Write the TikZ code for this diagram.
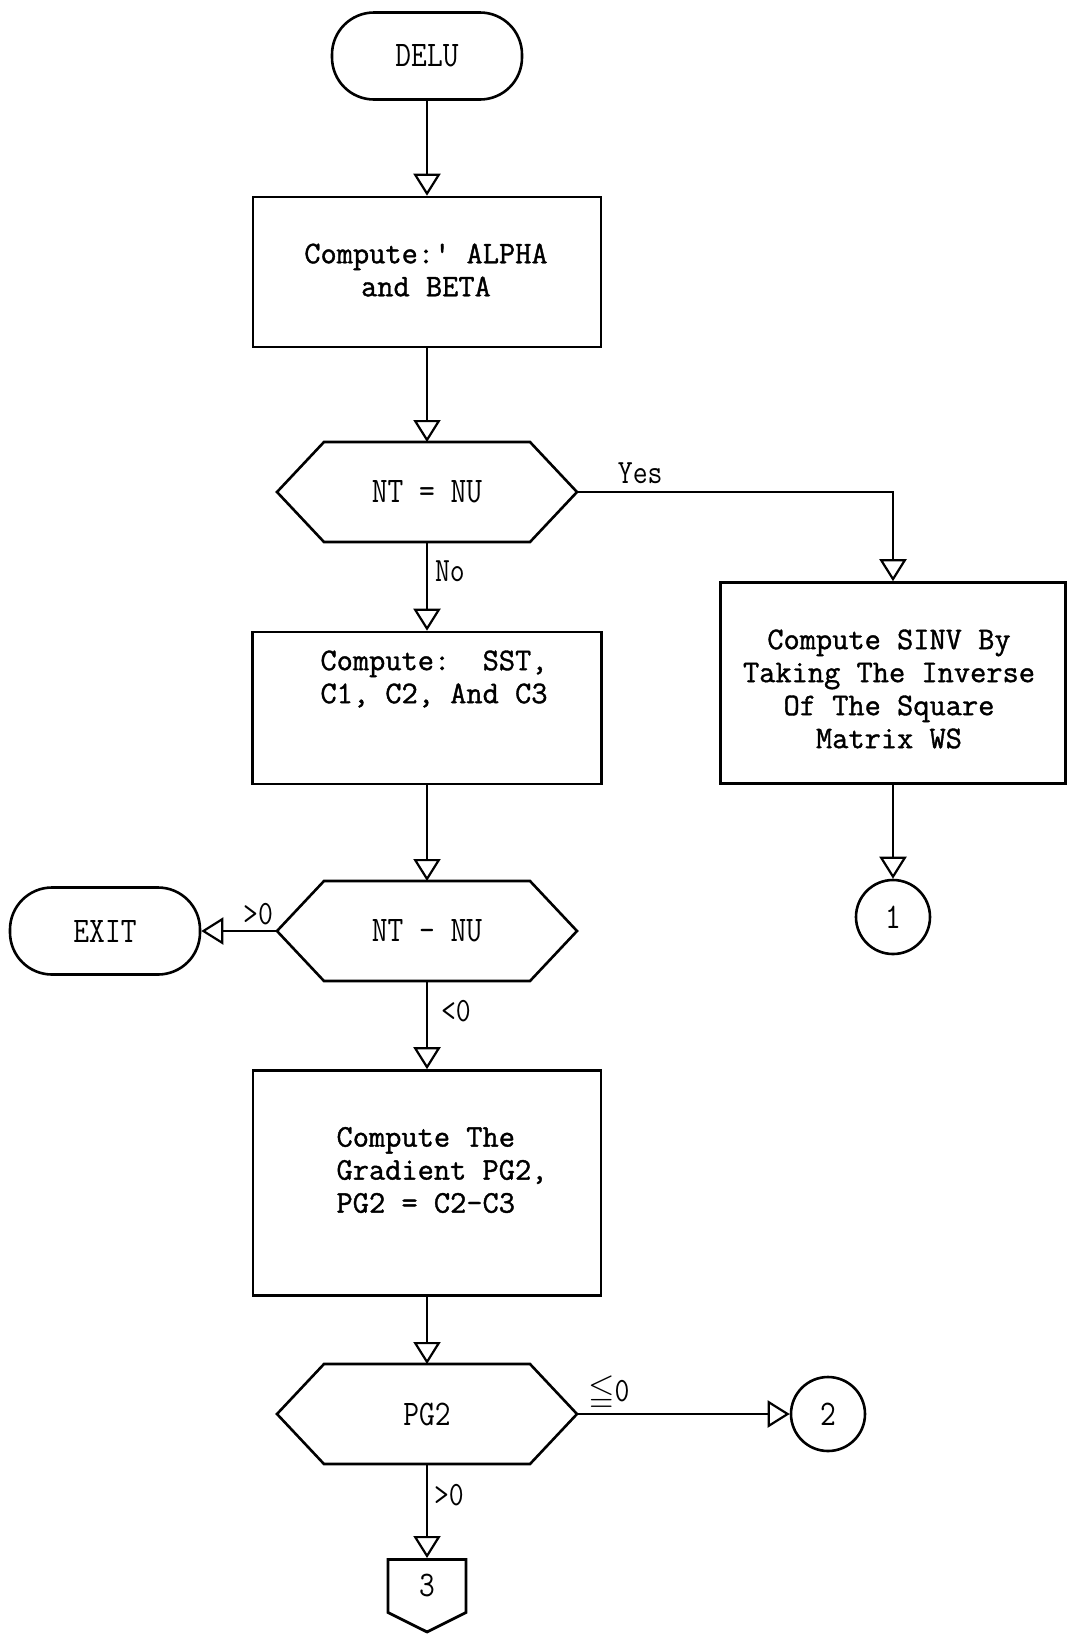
\documentclass[tikz,border=0pt]{standalone}
\usepackage{amssymb}
\usepackage{fontspec}
\newfontfamily\tallmono[FakeStretch=0.85]{Latin Modern Mono}
\newfontfamily\boxmono[FakeBold=1.2]{Latin Modern Mono}
\usetikzlibrary{shapes.symbols,arrows.meta}
\frenchspacing

\tikzset{
  shapeline/.style={line width=2.6pt, line join=miter},
  term/.style={draw, shapeline, rounded corners=42pt, minimum width=190pt,
    minimum height=87pt, inner sep=0pt, font=\tallmono\fontsize{36}{40}\selectfont},
  procbox/.style={draw, shapeline, inner sep=0pt},
  boxtext/.style={font=\boxmono\fontsize{31.5}{33}\selectfont, inner sep=0pt},
  decision/.style={minimum width=300pt, minimum height=100pt, inner sep=0pt, outer sep=0pt,
    font=\tallmono\fontsize{36}{40}\selectfont,
    append after command={\pgfextra{\let\hexnode\tikzlastnode
      \draw[shapeline] (\hexnode.west) -- ([xshift=47pt]\hexnode.north west)
        -- ([xshift=-47pt]\hexnode.north east) -- (\hexnode.east)
        -- ([xshift=-47pt]\hexnode.south east) -- ([xshift=47pt]\hexnode.south west) -- cycle;}}},
  conn/.style={draw, circle, shapeline, minimum size=74pt, inner sep=0pt,
    font=\tallmono\fontsize{36}{40}\selectfont},
  offpage/.style={draw, signal, signal to=south, signal pointer angle=127,
    line width=2.8pt, minimum width=78pt, minimum height=57pt, inner sep=0pt,
    font=\tallmono\fontsize{36}{40}\selectfont},
  flow/.style={line width=2.2pt, -{Triangle[open, width=27pt, length=22pt]}},
  lbl/.style={font=\tallmono\fontsize{34}{36}\selectfont, inner sep=3pt}
}

\begin{document}
\begin{tikzpicture}[x=1pt, y=-1pt]
    \useasboundingbox (0,0) rectangle (1069,1639);

    % Main column
    \node[term] (delu) at (427,56) {DELU};
    \node[procbox, minimum width=348pt, minimum height=150pt] (alpha) at (427,272) {};
    \node[boxtext, align=center] (alphatxt) at (426,270) {Compute:' ALPHA\\and BETA};
    \node[decision] (eqtest) at (427,492) {NT = NU};
    \node[procbox, minimum width=349pt, minimum height=152pt] (sst) at (427,708) {};
    \node[boxtext, align=left] (ssttxt) at (434,679) {Compute:~~SST,\\C1, C2, And C3};
    \node[decision] (difftest) at (427,931) {NT - NU};
    \node[procbox, minimum width=348pt, minimum height=225pt] (grad) at (427,1183) {};
    \node[boxtext, align=left] (gradtxt) at (442,1170) {Compute The\\Gradient PG2,\\PG2 = C2-C3};
    \node[decision] (pgtest) at (427,1414) {PG2};
    \node[offpage, anchor=north] (p3) at (427,1558) {3};

    % Side branches
    \node[term] (exit) at (105,931) {EXIT};
    \node[procbox, minimum width=345pt, minimum height=201pt] (sinv) at (893,683) {};
    \node[boxtext, align=center] (sinvtxt) at (889,689)
        {Compute SINV By\\Taking The Inverse\\Of The Square\\Matrix WS};
    \node[conn] (c1) at (893,917) {1};
    \node[conn] (c2) at (828,1414) {2};

    % Flow lines
    \draw[flow] (delu.south) -- (alpha.north);
    \draw[flow] (alpha.south) -- (eqtest.north);
    \draw[flow] (eqtest.east) -| node[lbl, pos=0.1, above, yshift=4pt] (yeslbl) {Yes} (sinv.north);
    \draw[flow] (eqtest.south) -- node[lbl, pos=0.33, right, xshift=4pt] (nolbl) {No} (sst.north);
    \draw[flow] (sinv.south) -- (c1.north);
    \draw[flow] (sst.south) -- (difftest.north);
    \draw[flow] (difftest.west) -- node[lbl, pos=0.25, above, yshift=2pt] (gtlbl) {>0} (exit.east);
    \draw[flow] (difftest.south) -- node[lbl, pos=0.34, right, xshift=10pt] (ltlbl) {<0} (grad.north);
    \draw[flow] (grad.south) -- (pgtest.north);
    \draw[flow] (pgtest.east) -- node[lbl, pos=0.15, above] (lelbl) {$\leqq$0} (c2.west);
    \draw[flow] (pgtest.south) -- node[lbl, pos=0.33, right, xshift=3pt] (poslbl) {>0} (p3.north);
\end{tikzpicture}
\end{document}
